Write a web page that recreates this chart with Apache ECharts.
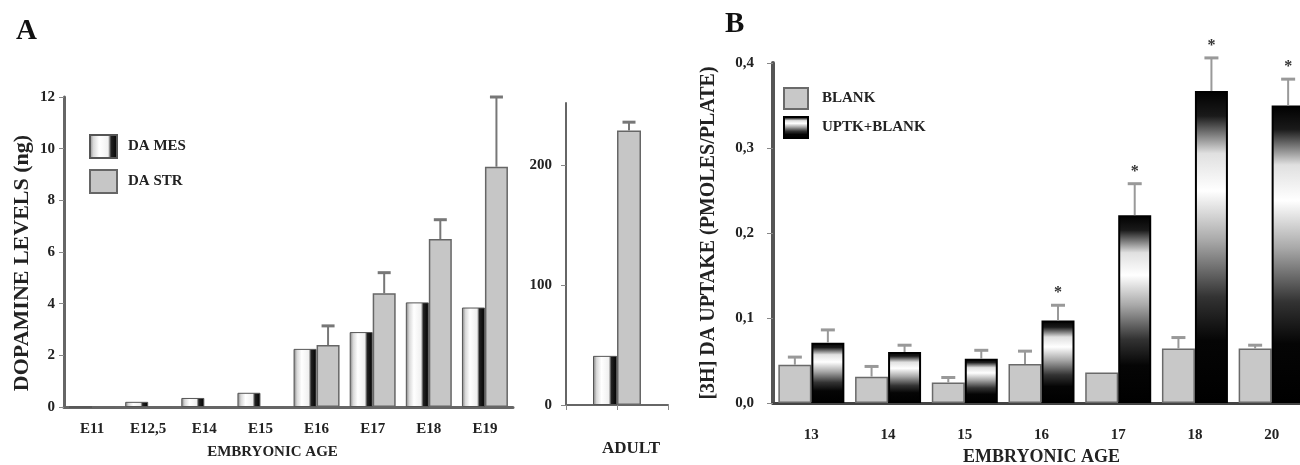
<!DOCTYPE html>
<html>
<head>
<meta charset="utf-8">
<script src="https://cdn.jsdelivr.net/npm/echarts@6/dist/echarts.min.js"></script>
<style>
  html, body { margin: 0; padding: 0; background: #fff; }
  #chart { width: 1300px; height: 465px; }
</style>
</head>
<body>
<div id="chart"></div>
<script>
// panel A, embryonic ages
const ageA = ['E11', 'E12,5', 'E14', 'E15', 'E16', 'E17', 'E18', 'E19'];
const mesA = [0, 0.2, 0.35, 0.55, 2.25, 2.9, 4.05, 3.85];
const strA = [0, 0, 0, 0, 2.4, 4.4, 6.5, 9.3];
const strErrA = [0, 0, 0, 0, 0.74, 0.8, 0.75, 2.7];

// panel A, adult
const adultCat = ['', 'ADULT', ''];
const mesAdult = [null, 41, null];
const strAdult = [null, 229, null];
const strErrAdult = [0, 7, 0];

// panel B
const ageB = ['13', '14', '15', '16', '17', '18', '20'];
const blank = [0.045, 0.031, 0.024, 0.046, 0.036, 0.064, 0.064];
const blankErr = [0.009, 0.012, 0.006, 0.015, 0, 0.013, 0.004];
const uptk = [0.071, 0.060, 0.052, 0.097, 0.221, 0.367, 0.350];
const uptkErr = [0.015, 0.008, 0.010, 0.018, 0.037, 0.039, 0.031];
const uptkSig = [0, 0, 0, 1, 1, 1, 1];

const FONT = 'Liberation Serif';
const TXT = '#222';

const mesFill = {
  type: 'linear', x: 0, y: 0, x2: 1, y2: 0,
  colorStops: [
    { offset: 0, color: '#7a7a7a' },
    { offset: 0.15, color: '#d8d8d8' },
    { offset: 0.35, color: '#ffffff' },
    { offset: 0.66, color: '#f0f0f0' },
    { offset: 0.76, color: '#222' },
    { offset: 1, color: '#000' }
  ]
};
const uptkFill = {
  type: 'linear', x: 0, y: 0, x2: 0, y2: 1,
  colorStops: [
    { offset: 0, color: '#000' },
    { offset: 0.08, color: '#1a1a1a' },
    { offset: 0.2, color: '#e0e0e0' },
    { offset: 0.32, color: '#ffffff' },
    { offset: 0.48, color: '#a8a8a8' },
    { offset: 0.66, color: '#333' },
    { offset: 0.8, color: '#050505' },
    { offset: 1, color: '#000' }
  ]
};

const errData = (vals, errs, side, sig) =>
  vals.map((v, i) => [i, v, errs[i], side, sig ? sig[i] : 0]).filter(d => d[2] > 0);

// error bar + optional asterisk, placed over the left (0) or right (1) bar of a pair
const errRender = (barW, capW, color) => (params, api) => {
  const i = api.value(0);
  const mean = api.value(1);
  const sd = api.value(2);
  const side = api.value(3);
  const p0 = api.coord([i, mean]);
  const p1 = api.coord([i, mean + sd]);
  const x = p0[0] + (side - 0.5) * barW;
  const children = [
    { type: 'line', shape: { x1: x, y1: p0[1], x2: x, y2: p1[1] }, style: { stroke: color, lineWidth: 2 } },
    { type: 'line', shape: { x1: x - capW / 2, y1: p1[1], x2: x + capW / 2, y2: p1[1] }, style: { stroke: color, lineWidth: 3 } }
  ];
  if (api.value(4)) {
    children.push({
      type: 'text',
      style: { text: '*', x: x, y: p1[1] - 12, align: 'center', verticalAlign: 'middle', font: 'bold 16px ' + FONT, fill: '#333' }
    });
  }
  return { type: 'group', children };
};

const axisLineStyle = { color: '#666', width: 3 };
const labelStyle = { fontFamily: FONT, fontWeight: 'bold', fontSize: 15, color: TXT };
const nameStyle = { fontFamily: FONT, fontWeight: 'bold', fontSize: 15, color: TXT };
const legendText = { fontFamily: FONT, fontWeight: 'bold', fontSize: 15, color: TXT };

const chart = echarts.init(document.getElementById('chart'));
chart.setOption({
  backgroundColor: '#fff',
  animation: false,
  title: [
    { text: 'A', left: 16, top: 17, padding: 0, textStyle: { fontFamily: FONT, fontWeight: 'bold', fontSize: 29, color: '#111' } },
    { text: 'B', left: 725, top: 10, padding: 0, textStyle: { fontFamily: FONT, fontWeight: 'bold', fontSize: 29, color: '#111' } }
  ],
  legend: [
    {
      data: ['DA MES', 'DA STR'], orient: 'vertical', left: 84, top: 129, icon: 'rect',
      itemWidth: 27, itemHeight: 23, itemGap: 10, selectedMode: false,
      textStyle: Object.assign({ padding: [0, 0, 0, 6] }, legendText)
    },
    {
      data: ['BLANK', 'UPTK+BLANK'], orient: 'vertical', left: 778, top: 82, icon: 'rect',
      itemWidth: 24, itemHeight: 21, itemGap: 6, selectedMode: false,
      textStyle: Object.assign({ padding: [0, 0, 0, 9] }, legendText)
    }
  ],
  grid: [
    { left: 64, top: 97, width: 449, height: 310, outerBoundsMode: 'none' },
    { left: 566, top: 103, width: 102, height: 302, outerBoundsMode: 'none' },
    { left: 773, top: 63, width: 537, height: 340, outerBoundsMode: 'none' }
  ],
  xAxis: [
    {
      type: 'category', gridIndex: 0, data: ageA,
      axisLine: { lineStyle: axisLineStyle },
      axisTick: { alignWithLabel: true, length: 5, lineStyle: { color: '#888' } },
      axisLabel: Object.assign({ margin: 15 }, labelStyle),
      name: 'EMBRYONIC AGE', nameLocation: 'middle', nameGap: 38,
      nameTextStyle: Object.assign({ padding: [0, 32, 0, 0] }, nameStyle)
    },
    {
      type: 'category', gridIndex: 1, data: adultCat, boundaryGap: false,
      axisLine: { lineStyle: { color: '#666', width: 2 } },
      axisTick: { length: 5, lineStyle: { color: '#888' } },
      axisLabel: { show: false },
      name: 'ADULT', nameLocation: 'middle', nameGap: 35,
      nameTextStyle: Object.assign({ padding: [0, 0, 0, 28] }, nameStyle, { fontSize: 17 })
    },
    {
      type: 'category', gridIndex: 2, data: ageB,
      axisLine: { lineStyle: { color: '#444', width: 3 } },
      axisTick: { alignWithLabel: true, length: 6, lineStyle: { color: '#888' } },
      axisLabel: Object.assign({ margin: 25 }, labelStyle),
      name: 'EMBRYONIC AGE', nameLocation: 'middle', nameGap: 45,
      nameTextStyle: Object.assign({}, nameStyle, { fontSize: 18 })
    }
  ],
  yAxis: [
    {
      type: 'value', gridIndex: 0, min: 0, max: 12, interval: 2,
      splitLine: { show: false },
      axisLine: { show: true, lineStyle: axisLineStyle },
      axisTick: { show: true, length: 5, lineStyle: { color: '#888' } },
      axisLabel: Object.assign({ margin: 9 }, labelStyle),
      name: 'DOPAMINE LEVELS (ng)', nameLocation: 'middle', nameGap: 31,
      nameTextStyle: Object.assign({ padding: [0, 22, 0, 0] }, nameStyle, { fontSize: 22 })
    },
    {
      type: 'value', gridIndex: 1, min: 0, max: 252,
      splitLine: { show: false },
      axisLine: { show: true, lineStyle: { color: '#666', width: 2 } },
      axisTick: { show: true, length: 5, customValues: [0, 100, 200], lineStyle: { color: '#888' } },
      axisLabel: Object.assign({ margin: 14, customValues: [0, 100, 200] }, labelStyle)
    },
    {
      type: 'value', gridIndex: 2, min: 0, max: 0.4, interval: 0.1,
      splitLine: { show: false },
      axisLine: { show: true, lineStyle: { color: '#555', width: 4 } },
      axisTick: { show: true, length: 6, lineStyle: { color: '#888' } },
      axisLabel: Object.assign({ margin: 19, formatter: v => v.toFixed(1).replace('.', ',') }, labelStyle),
      name: '[3H] DA UPTAKE (PMOLES/PLATE)', nameLocation: 'middle', nameGap: 54,
      nameTextStyle: Object.assign({}, nameStyle, { fontSize: 20 })
    }
  ],
  series: [
    {
      name: 'DA MES', type: 'bar', xAxisIndex: 0, yAxisIndex: 0, data: mesA,
      barWidth: 23, barGap: '0%',
      itemStyle: { color: mesFill, borderColor: '#555', borderWidth: 1 }
    },
    {
      name: 'DA STR', type: 'bar', xAxisIndex: 0, yAxisIndex: 0, data: strA,
      barWidth: 23, barGap: '0%',
      itemStyle: { color: '#c6c6c6', borderColor: '#666', borderWidth: 1.5 }
    },
    {
      type: 'custom', xAxisIndex: 0, yAxisIndex: 0, z: 3,
      data: errData(strA, strErrA, 1), renderItem: errRender(23, 13, '#777')
    },
    {
      name: 'DA MES', type: 'bar', xAxisIndex: 1, yAxisIndex: 1, data: mesAdult,
      barWidth: 24, barGap: '0%',
      itemStyle: { color: mesFill, borderColor: '#555', borderWidth: 1 }
    },
    {
      name: 'DA STR', type: 'bar', xAxisIndex: 1, yAxisIndex: 1, data: strAdult,
      barWidth: 24, barGap: '0%',
      itemStyle: { color: '#c6c6c6', borderColor: '#666', borderWidth: 1.5 }
    },
    {
      type: 'custom', xAxisIndex: 1, yAxisIndex: 1, z: 3,
      data: errData(strAdult, strErrAdult, 1), renderItem: errRender(24, 13, '#777')
    },
    {
      name: 'BLANK', type: 'bar', xAxisIndex: 2, yAxisIndex: 2, data: blank,
      barWidth: 33, barGap: '0%',
      itemStyle: { color: '#c8c8c8', borderColor: '#6a6a6a', borderWidth: 1.5 }
    },
    {
      name: 'UPTK+BLANK', type: 'bar', xAxisIndex: 2, yAxisIndex: 2, data: uptk,
      barWidth: 33, barGap: '0%',
      itemStyle: { color: uptkFill, borderColor: '#000', borderWidth: 2 }
    },
    {
      type: 'custom', xAxisIndex: 2, yAxisIndex: 2, z: 3,
      data: errData(blank, blankErr, 0), renderItem: errRender(33, 14, '#999')
    },
    {
      type: 'custom', xAxisIndex: 2, yAxisIndex: 2, z: 3,
      data: errData(uptk, uptkErr, 1, uptkSig), renderItem: errRender(33, 14, '#999')
    }
  ]
});
</script>
</body>
</html>
